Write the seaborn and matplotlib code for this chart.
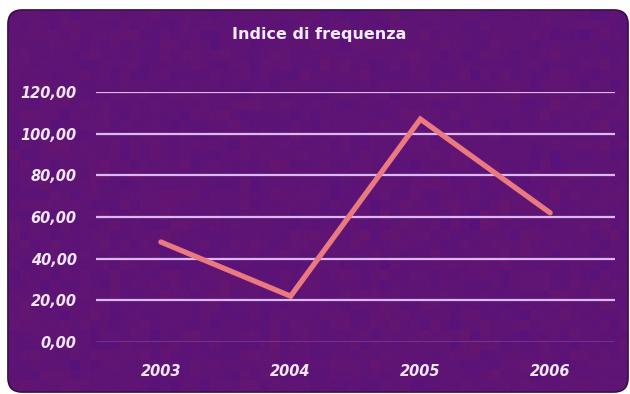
import numpy as np
import pandas as pd
import matplotlib
matplotlib.use("Agg")
import matplotlib.pyplot as plt
from matplotlib.patches import FancyBboxPatch
import seaborn as sns

# Data
years = ["2003", "2004", "2005", "2006"]
frequency_index = [48.0, 22.0, 107.0, 62.0]
y_ticks = [0, 20, 40, 60, 80, 100, 120]
y_tick_labels = ["0,00", "20,00", "40,00", "60,00", "80,00", "100,00", "120,00"]
title = "Indice di frequenza"

df = pd.DataFrame({"anno": years, "indice": frequency_index})

sns.set_theme(style="white")
plt.rcParams["font.family"] = ["DejaVu Sans"]

W, H = 630, 394
fig = plt.figure(figsize=(W / 100, H / 100), dpi=100, facecolor="white")

# Rounded purple panel with a soft mottled texture
bg = fig.add_axes([0, 0, 1, 1], zorder=0)
bg.set_xlim(0, W)
bg.set_ylim(H, 0)
bg.axis("off")
panel = FancyBboxPatch((8, 10), 620, 382, boxstyle="round,pad=0,rounding_size=14",
                       facecolor="#561470", edgecolor="#24082f", linewidth=1.2)
bg.add_patch(panel)
rng = np.random.default_rng(7)
coarse = rng.normal(0, 1, (40, 64))
tex = np.kron(coarse, np.ones((10, 10)))[:H, :W]
fine = rng.normal(0, 1, (H, W)) * 0.6
tex = tex + fine
tex = (tex - tex.min()) / (tex.max() - tex.min())
img = np.zeros((H, W, 4))
img[..., 0] = 0.30 + 0.22 * tex
img[..., 1] = 0.05 + 0.06 * tex
img[..., 2] = 0.40 + 0.18 * (1 - tex)
img[..., 3] = 0.45
im = bg.imshow(img, extent=(0, W, H, 0), zorder=1, interpolation="bilinear")
im.set_clip_path(panel)

# Chart axes
ax = fig.add_axes([96 / W, 1 - 342 / H, (615 - 96) / W, (342 - 92) / H], zorder=2)
ax.patch.set_alpha(0)
sns.lineplot(data=df, x="anno", y="indice", ax=ax, color="#ea7a80", linewidth=3.8,
             sort=False, solid_joinstyle="miter", zorder=4, clip_on=False)
ax.set_xlim(-0.5, 3.5)
ax.set_ylim(0, 120)
ax.set_yticks(y_ticks)
ax.set_yticklabels(y_tick_labels)
for y in y_ticks:
    if y == 0:
        ax.axhline(y, color="#8a4aa6", linewidth=1.2, zorder=3, alpha=0.6)
    else:
        ax.axhline(y, color="#dcb8f2", linewidth=1.6, zorder=3)
ax.set_xlabel("")
ax.set_ylabel("")
for s in ax.spines.values():
    s.set_visible(False)
ax.tick_params(axis="both", length=0, colors="#f2e6fa")
ax.tick_params(axis="y", pad=14)
ax.tick_params(axis="x", pad=16)
for lab in ax.get_yticklabels() + ax.get_xticklabels():
    lab.set_fontsize(10.5)
    lab.set_fontweight("bold")
    lab.set_fontstyle("italic")
    lab.set_color("#f2e6fa")

fig.text(319 / W, 1 - 35 / H, title, ha="center", va="center", fontsize=11.5,
         fontweight="bold", color="#f5ecfb")

fig.savefig("out.png", dpi=100, facecolor="white")
